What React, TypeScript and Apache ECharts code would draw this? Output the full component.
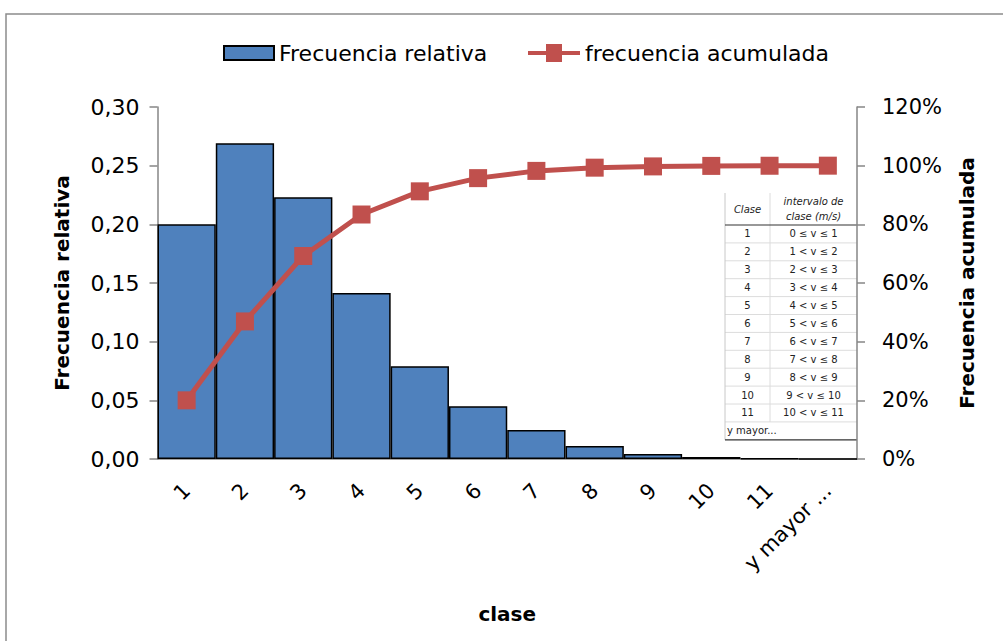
import React, { useEffect, useRef } from "react";
import * as echarts from "echarts";

const categories = ["1", "2", "3", "4", "5", "6", "7", "8", "9", "10", "11", "y mayor ..."];
const relFreq = [0.2, 0.269, 0.223, 0.1415, 0.079, 0.045, 0.0247, 0.011, 0.0043, 0.0017, 0.0005, 0];
const cumFreq = [0.2, 0.469, 0.692, 0.8335, 0.9125, 0.9575, 0.9822, 0.9932, 0.9975, 0.9992, 0.9997, 1.0];
const tableClases = ["1", "2", "3", "4", "5", "6", "7", "8", "9", "10", "11"];
const tableIntervals = [
  "0 ≤ v ≤ 1", "1 < v ≤ 2", "2 < v ≤ 3", "3 < v ≤ 4", "4 < v ≤ 5", "5 < v ≤ 6",
  "6 < v ≤ 7", "7 < v ≤ 8", "8 < v ≤ 9", "9 < v ≤ 10", "10 < v ≤ 11",
];
const tableLastRow = "y mayor...";

const FONT = "DejaVu Sans";
const LINE_ICON = "path://M0,7 L18,7 L18,0 L34,0 L34,7 L52,7 L52,11 L34,11 L34,18 L18,18 L18,11 L0,11 Z";

function buildTable() {
  const x0 = 725, x1 = 770, x2 = 857;
  const yTop = 193, yHead = 225, rowH = 17.9;
  const els: any[] = [];
  const nRows = tableClases.length + 1;
  const yBottom = yHead + nRows * rowH;
  els.push({ type: "rect", shape: { x: x0, y: yTop, width: x2 - x0, height: yBottom - yTop }, style: { fill: "#fff" } });
  for (let i = 1; i < nRows; i++) {
    const y = yHead + i * rowH;
    els.push({ type: "line", shape: { x1: x0, y1: y, x2: x2, y2: y }, style: { stroke: "#dcdcdc", lineWidth: 1 } });
  }
  els.push({ type: "line", shape: { x1: x0, y1: yTop, x2: x0, y2: yBottom }, style: { stroke: "#c8c8c8", lineWidth: 1 } });
  els.push({ type: "line", shape: { x1: x1, y1: yTop, x2: x1, y2: yHead + tableClases.length * rowH }, style: { stroke: "#dcdcdc", lineWidth: 1 } });
  els.push({ type: "line", shape: { x1: x0, y1: yHead, x2: x2, y2: yHead }, style: { stroke: "#333", lineWidth: 1.2 } });
  els.push({ type: "line", shape: { x1: x0, y1: yBottom, x2: x2, y2: yBottom }, style: { stroke: "#333", lineWidth: 1.2 } });
  const t = (text: string, x: number, y: number, align: string, italic = false) => ({
    type: "text", x, y,
    style: { text, fontStyle: italic ? "italic" : "normal", fontSize: 10, fontFamily: FONT, fill: "#222", align, verticalAlign: "middle" },
  });
  els.push(t("Clase", (x0 + x1) / 2, (yTop + yHead) / 2, "center", true));
  els.push(t("intervalo de", (x1 + x2) / 2, yTop + 8, "center", true));
  els.push(t("clase (m/s)", (x1 + x2) / 2, yTop + 23, "center", true));
  tableClases.forEach((c, i) => {
    const yc = yHead + (i + 0.5) * rowH;
    els.push(t(c, (x0 + x1) / 2, yc, "center"));
    els.push(t(tableIntervals[i], (x1 + x2) / 2, yc, "center"));
  });
  els.push(t(tableLastRow, x0 + 2, yHead + (tableClases.length + 0.5) * rowH, "left"));
  return els;
}

export default function App() {
  const ref = useRef<HTMLDivElement>(null);
  useEffect(() => {
    const chart = echarts.init(ref.current!, null, { renderer: "svg" });
    const axisLine = { show: true, lineStyle: { color: "#868686", width: 1.5 } };
    const legendText = { fontSize: 22, color: "#000", fontFamily: FONT };
    chart.setOption({
      animation: false,
      backgroundColor: "#fff",
      textStyle: { fontFamily: FONT },
      legend: [
        {
          top: 37,
          left: 218,
          itemWidth: 50,
          itemHeight: 14,
          textStyle: legendText,
          data: [{ name: "Frecuencia relativa", icon: "rect" }],
        },
        {
          top: 37,
          left: 523,
          itemWidth: 52,
          itemHeight: 18,
          textStyle: legendText,
          data: [{ name: "frecuencia acumulada", icon: LINE_ICON }],
        },
      ],
      grid: { left: 157.5, right: 146, top: 107, bottom: 182, containLabel: false },
      xAxis: {
        type: "category",
        data: categories,
        axisLine,
        axisTick: { show: false },
        axisLabel: { rotate: 45, fontSize: 21, color: "#000", margin: 28, interval: 0 },
        name: "clase",
        nameLocation: "middle",
        nameGap: 145,
        nameTextStyle: { fontSize: 20, fontWeight: "bold", color: "#000" },
      },
      yAxis: [
        {
          type: "value",
          min: 0,
          max: 0.3,
          interval: 0.05,
          axisLine,
          axisTick: { show: true, length: 8, lineStyle: { color: "#868686", width: 1.5 } },
          splitLine: { show: false },
          axisLabel: { fontSize: 22, color: "#000", margin: 18, formatter: (v: number) => v.toFixed(2).replace(".", ",") },
          name: "Frecuencia relativa",
          nameLocation: "middle",
          nameRotate: 90,
          nameGap: 86,
          nameTextStyle: { fontSize: 20, fontWeight: "bold", color: "#000" },
        },
        {
          type: "value",
          min: 0,
          max: 1.2,
          interval: 0.2,
          position: "right",
          axisLine,
          axisTick: { show: true, length: 8, lineStyle: { color: "#868686", width: 1.5 } },
          splitLine: { show: false },
          axisLabel: { fontSize: 21, color: "#000", margin: 25, formatter: (v: number) => Math.round(v * 100) + "%" },
          name: "Frecuencia acumulada",
          nameLocation: "middle",
          nameRotate: 90,
          nameGap: 100,
          nameTextStyle: { fontSize: 20, fontWeight: "bold", color: "#000" },
        },
      ],
      series: [
        {
          name: "Frecuencia relativa",
          type: "bar",
          data: relFreq,
          barCategoryGap: 0,
          itemStyle: { color: "#4F81BD", borderColor: "#000", borderWidth: 1.5 },
          yAxisIndex: 0,
          z: 2,
        },
        {
          name: "frecuencia acumulada",
          type: "line",
          data: cumFreq,
          yAxisIndex: 1,
          symbol: "rect",
          symbolSize: 18,
          lineStyle: { color: "#C0504D", width: 5 },
          itemStyle: { color: "#C0504D" },
          z: 3,
        },
      ],
      graphic: [
        { type: "rect", shape: { x: 6, y: 14, width: 1020, height: 650 }, style: { fill: "none", stroke: "#8c8c8c", lineWidth: 1.5 }, z: 0, silent: true },
        { type: "group", children: buildTable(), z: 10 },
      ],
    });
    return () => chart.dispose();
  }, []);
  return <div ref={ref} style={{ position: "fixed", left: 0, top: 0, width: 1003, height: 641 }} />;
}
